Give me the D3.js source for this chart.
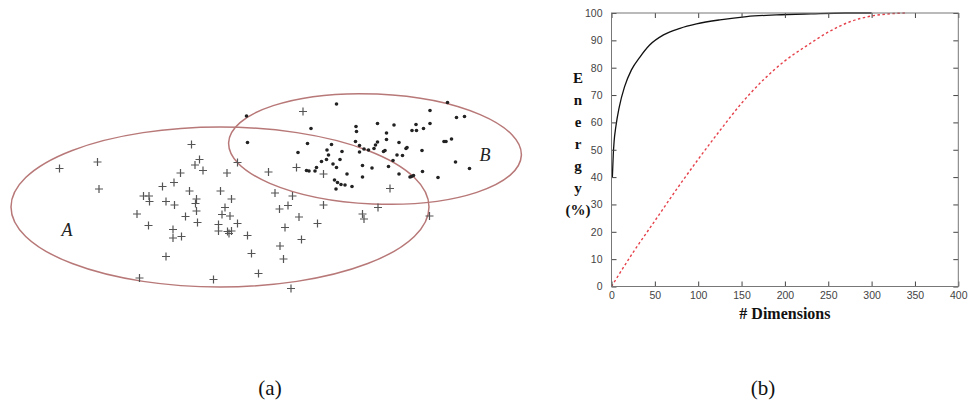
<!DOCTYPE html>
<html>
<head>
<meta charset="utf-8">
<script src="https://cdn.jsdelivr.net/npm/d3@7"></script>
<style>
  html, body { margin: 0; padding: 0; background: #fff; }
  svg { display: block; }
</style>
</head>
<body>
<svg id="fig" width="968" height="412"></svg>
<script>
// ---- Panel (a): two clusters in a 2-D feature space ----
// Class A samples (drawn as "+")
const classAx = [11.9,19.5,19.8,38.3,39.9,39.0,40.6,36.1,34.8,32.5,28.7,29.8,29.9,33.2,34.9,37.9,39.3,39.1,39.3,37.1,
  27.4,29.7,34.6,34.6,36.3,39.5,33.2,27.9,42.7,45.4,44.1,46.3,45.0,44.4,46.0,47.5,43.7,43.7,45.5,46.3,
  45.8,49.5,47.5,53.7,60.6,59.3,64.7,55.0,58.5,55.9,57.6,64.7,59.8,63.5,57.0,60.3,56.0,56.7,50.3,51.7,
  58.2,78.0,75.6,72.5,72.8,85.9];
const classAy = [26.3,27.6,22.2,31.1,28.1,27.0,25.9,25.4,23.5,22.7,20.8,20.8,19.7,19.7,19.0,21.8,20.2,19.3,17.8,16.7,
  17.2,14.9,14.1,12.4,12.7,15.5,8.7,4.4,4.1,25.4,21.8,20.2,18.5,17.1,16.8,15.3,15.1,13.8,13.7,13.8,
  13.3,12.9,27.5,25.6,37.7,26.5,25.2,21.4,20.8,18.2,18.9,19.0,16.6,15.3,14.5,12.1,10.8,8.2,9.3,5.3,
  2.3,22.3,18.5,17.2,16.2,16.8];
// Class B samples (drawn as dots)
const classBx = [49.3,49.5,67.3,62.2,61.5,59.6,65.4,65.7,66.3,68.4,64.3,65.3,66.6,67.3,68.0,63.3,63.0,61.8,61.3,69.4,
  66.9,67.5,68.2,69.0,67.2,70.4,71.2,71.3,71.1,71.9,72.8,73.7,71.9,75.5,78.8,77.3,77.3,75.5,75.1,74.8,
  76.7,77.0,79.8,81.2,81.4,79.4,80.5,78.6,72.5,74.4,77.7,72.5,79.8,82.3,82.7,82.0,84.5,84.4,83.2,82.4,
  83.3,84.7,86.0,86.0,89.5,91.3,92.9,88.8,89.2,90.3,91.1,93.9,87.6];
const classBy = [36.8,31.5,39.2,34.3,31.3,29.5,30.0,29.0,31.1,29.7,27.7,28.1,27.2,26.5,28.1,26.5,25.8,25.8,25.9,25.2,
  24.0,23.5,23.1,23.0,22.2,22.7,34.7,33.7,31.7,30.9,30.2,30.0,29.6,35.3,35.0,33.4,32.1,31.6,31.0,30.3,
  29.7,29.9,31.5,30.3,30.5,29.0,28.9,27.9,26.9,26.4,26.7,24.6,25.2,24.7,24.9,24.6,25.7,29.9,35.1,33.9,
  33.9,34.3,37.9,35.3,39.5,36.5,36.7,31.7,31.7,32.2,27.6,26.3,24.5];
// Region outlines: centre x, centre y, semi-axis x, semi-axis y, rotation (deg)
const regionNames = ["A", "B"];
const regionCx = [44.0, 75.0];
const regionCy = [18.6, 30.2];
const regionRx = [41.8, 29.3];
const regionRy = [16.0, 11.0];
const regionRot = [0, 2.5];
const regionLabelX = [13.4, 97.0];
const regionLabelY = [14.0, 29.0];

// ---- Panel (b): cumulative energy vs. number of dimensions ----
const dimsSolid = [1, 2, 3, 5, 9, 15, 23, 33, 44, 60, 79, 98, 125, 156, 190, 230, 270, 300];
const energySolid = [40, 48, 53, 58.4, 65.7, 73, 79.2, 84, 88.3, 92, 94.4, 96, 97.5, 98.7, 99.3, 99.7, 100, 100];
const dimsDotted = [0, 25, 50, 75, 100, 125, 150, 175, 200, 225, 250, 275, 300, 325, 340];
const energyDotted = [0, 12.5, 24, 35.5, 46.5, 57, 67, 75.5, 82.5, 88, 93, 96.8, 98.9, 99.8, 100];
const xTicks = [0, 50, 100, 150, 200, 250, 300, 350, 400];
const yTicks = [0, 10, 20, 30, 40, 50, 60, 70, 80, 90, 100];
const yTitleLetters = ["E", "n", "e", "r", "g", "y", "(%)"];
const xTitle = "# Dimensions";
const captions = ["(a)", "(b)"];

const svg = d3.select("#fig");

// ---------- (a) scatter ----------
const xa = d3.scaleLinear().domain([0, 100]).range([0, 500]);
const ya = d3.scaleLinear().domain([0, 60]).range([300, 0]);
const ga = svg.append("g");

// ellipses (both axes share 5 px per unit)
const pxPerUnit = xa(1) - xa(0);
regionNames.forEach((n, i) => {
  ga.append("ellipse")
    .attr("cx", 0).attr("cy", 0)
    .attr("rx", regionRx[i] * pxPerUnit)
    .attr("ry", regionRy[i] * pxPerUnit)
    .attr("transform", `translate(${xa(regionCx[i])},${ya(regionCy[i])}) rotate(${regionRot[i]})`)
    .attr("fill", "none")
    .attr("stroke", "#b87878")
    .attr("stroke-width", 1.5);
  ga.append("text")
    .attr("x", xa(regionLabelX[i])).attr("y", ya(regionLabelY[i]))
    .attr("text-anchor", "middle").attr("dominant-baseline", "central")
    .attr("font-family", "Liberation Serif, serif")
    .attr("font-style", "italic")
    .attr("font-size", 18)
    .attr("fill", "#222")
    .text(n);
});

// class A crosses
const crossArm = 4;
const aPts = classAx.map((v, i) => [v, classAy[i]]);
ga.append("g").selectAll("path").data(aPts).join("path")
  .attr("d", d => {
    const x = xa(d[0]), y = ya(d[1]);
    return `M${x - crossArm},${y}H${x + crossArm}M${x},${y - crossArm}V${y + crossArm}`;
  })
  .attr("stroke", "#555")
  .attr("stroke-width", 1.2)
  .attr("fill", "none");

// class B dots
const bPts = classBx.map((v, i) => [v, classBy[i]]);
ga.append("g").selectAll("circle").data(bPts).join("circle")
  .attr("cx", d => xa(d[0])).attr("cy", d => ya(d[1]))
  .attr("r", 1.8)
  .attr("fill", "#222");

// ---------- (b) energy curves ----------
const xb = d3.scaleLinear().domain([0, 400]).range([611.5, 958.3]);
const yb = d3.scaleLinear().domain([0, 100]).range([286.5, 13]);
const gb = svg.append("g");

const line = d3.line().x(d => xb(d[0])).y(d => yb(d[1])).curve(d3.curveMonotoneX);

gb.append("path")
  .attr("d", line(dimsDotted.map((v, i) => [v, energyDotted[i]])))
  .attr("fill", "none")
  .attr("stroke", "#e5404a")
  .attr("stroke-width", 1.4)
  .attr("stroke-dasharray", "2.5,2.5");

gb.append("path")
  .attr("d", line(dimsSolid.map((v, i) => [v, energySolid[i]])))
  .attr("fill", "none")
  .attr("stroke", "#111")
  .attr("stroke-width", 1.3);

// axes with inward ticks on all four sides
const tickFont = "Liberation Sans, Arial, sans-serif";
const axB = gb.append("g").attr("transform", `translate(0,${yb(0)})`)
  .call(d3.axisBottom(xb).tickValues(xTicks).tickSizeInner(-5).tickSizeOuter(0).tickPadding(5));
const axL = gb.append("g").attr("transform", `translate(${xb(0)},0)`)
  .call(d3.axisLeft(yb).tickValues(yTicks).tickSizeInner(-5).tickSizeOuter(0).tickPadding(9));
const axT = gb.append("g").attr("transform", `translate(0,${yb(100)})`)
  .call(d3.axisTop(xb).tickValues(xTicks).tickSizeInner(-5).tickSizeOuter(0).tickFormat(""));
const axR = gb.append("g").attr("transform", `translate(${xb(400)},0)`)
  .call(d3.axisRight(yb).tickValues(yTicks).tickSizeInner(-5).tickSizeOuter(0).tickFormat(""));
[axB, axL, axT, axR].forEach(a => {
  a.select(".domain").remove();
  a.selectAll(".tick line").attr("stroke", "#444");
  a.selectAll("text")
    .attr("font-family", tickFont)
    .attr("font-size", 10.5)
    .attr("fill", "#444");
});

gb.append("rect")
  .attr("x", xb(0)).attr("y", yb(100))
  .attr("width", xb(400) - xb(0)).attr("height", yb(0) - yb(100))
  .attr("fill", "none")
  .attr("stroke", "#777")
  .attr("stroke-width", 1);

// stacked y title
const titleFont = "Liberation Serif, Times New Roman, serif";
gb.append("g").selectAll("text").data(yTitleLetters).join("text")
  .attr("x", 578)
  .attr("y", (d, i) => 78 + i * 22)
  .attr("text-anchor", "middle").attr("dominant-baseline", "central")
  .attr("font-family", titleFont).attr("font-weight", "bold").attr("font-size", 15)
  .attr("fill", "#111")
  .text(d => d);

gb.append("text")
  .attr("x", (xb(0) + xb(400)) / 2).attr("y", 313)
  .attr("text-anchor", "middle").attr("dominant-baseline", "central")
  .attr("font-family", titleFont).attr("font-weight", "bold").attr("font-size", 16)
  .attr("fill", "#111")
  .text(xTitle);

// panel captions
const captionX = [270, 763];
svg.append("g").selectAll("text").data(captions).join("text")
  .attr("x", (d, i) => captionX[i]).attr("y", 388)
  .attr("text-anchor", "middle").attr("dominant-baseline", "central")
  .attr("font-family", "Liberation Serif, serif").attr("font-size", 21)
  .attr("fill", "#111")
  .text(d => d);
</script>
</body>
</html>
